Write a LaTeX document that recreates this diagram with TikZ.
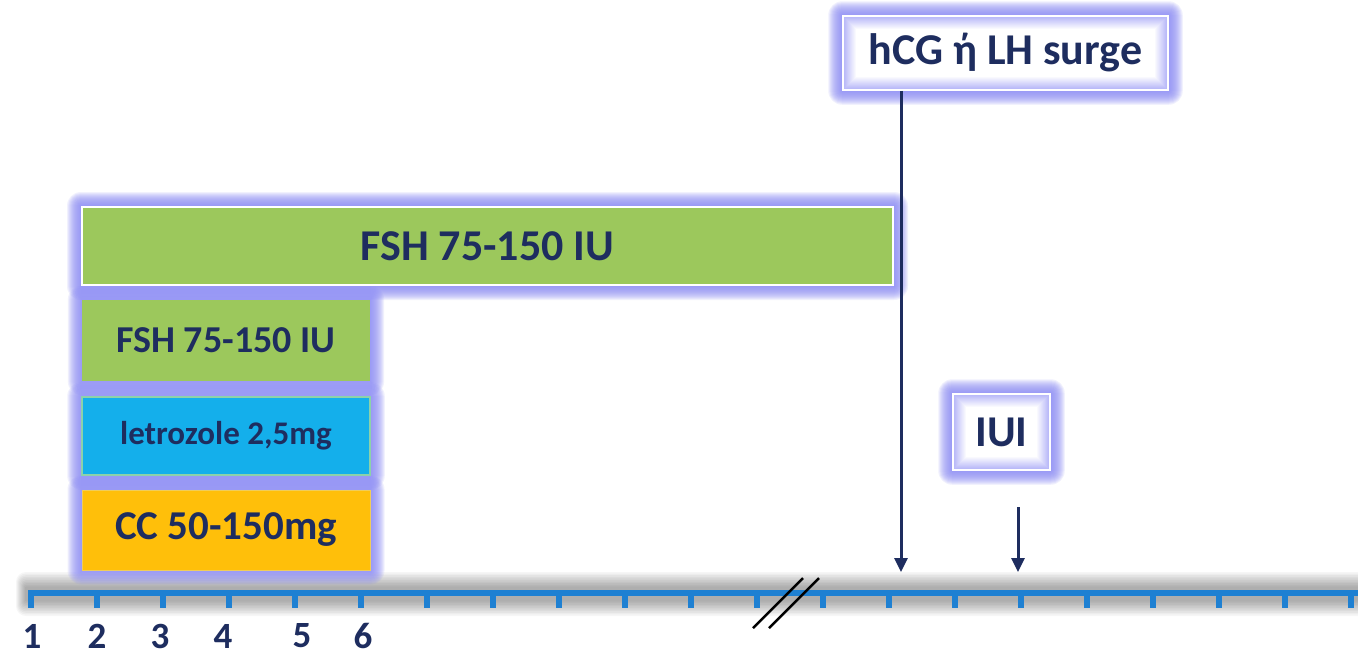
\documentclass[tikz,border=0pt]{standalone}
\usepackage{fontspec}
\setmainfont{Carlito}
\usetikzlibrary{arrows.meta}
\usetikzlibrary{backgrounds}

\definecolor{navy}{HTML}{1E2D5F}
\definecolor{halo}{HTML}{8C8CF5}
\definecolor{leaf}{HTML}{9CC85C}
\definecolor{sky}{HTML}{14AFEB}
\definecolor{amber}{HTML}{FFBF0A}
\definecolor{axisblue}{HTML}{1E80D2}

% soft lavender halo round a node
\newcommand{\halobox}[2][14]{%
  \foreach \g in {1,...,#1}
    \fill[halo,fill opacity=0.12,rounded corners=\g pt]
      ([xshift=-\g pt,yshift=-\g pt]#2.south west) rectangle
      ([xshift=\g pt,yshift=\g pt]#2.north east);
}
% lavender shade just inside the frame of a node
\newcommand{\innerglow}[1]{%
  \foreach \g in {2,...,13}{
    \pgfmathsetmacro{\a}{0.7*(1-\g/14)}
    \draw[halo,draw opacity=\a,line width=1.2pt]
      ([xshift=\g pt,yshift=\g pt]#1.south west) rectangle
      ([xshift=-\g pt,yshift=-\g pt]#1.north east);
  }
}

\begin{document}
\begin{tikzpicture}
[x=1pt,y=-1pt,%
  every node/.style={inner sep=0pt,text=navy,font=\bfseries},%
  dose/.style={minimum height=80pt,minimum width=288pt},%
  event/.style={fill=white,draw=white,line width=1.5pt},%
  daynum/.style={font=\bfseries\fontsize{37}{40}\selectfont},%
  axis/.style={axisblue,line width=6pt},%
  pointer/.style={navy,line width=3pt,-{Triangle[length=14pt,width=13pt]}}]
\useasboundingbox (0,0) rectangle (1358,657);
%%
\node[dose,fill=leaf,draw=white,line width=2pt,minimum width=811pt,minimum height=78pt,
  font=\bfseries\fontsize{44}{48}\selectfont] (fshlong) at (487.5,246) {FSH 75-150 IU};
\node[dose,fill=leaf,minimum height=81pt,
  font=\bfseries\fontsize{38}{42}\selectfont] (fsh) at (226,340.5) {FSH 75-150 IU};
\node[dose,fill=sky,draw={rgb,255:red,140;green,210;blue,170},line width=1.5pt,minimum height=78pt,
  font=\bfseries\fontsize{33}{36}\selectfont] (letrozole) at (226,436) {letrozole 2,5mg};
\node[dose,fill=amber,draw={rgb,255:red,240;green,205;blue,90},line width=1pt,
  font=\bfseries\fontsize{41}{44}\selectfont] (cc) at (226,530) {CC 50-150mg};
%%
\node[event,minimum width=325pt,minimum height=74pt,
  font=\bfseries\fontsize{44}{48}\selectfont] (hcg) at (1005.5,53) {hCG ή LH surge};
\node[event,minimum width=97pt,minimum height=76pt,
  font=\bfseries\fontsize{44}{48}\selectfont] (iui) at (1001.5,432) {IUI};
\innerglow{hcg}
\innerglow{iui}
%%
\begin{scope}[on background layer]
  \fill[white] (0,0) rectangle (1358,657);
  % shadow round the time line
  \foreach \g in {1,...,10}
    \fill[black,fill opacity=0.035,rounded corners=\g pt]
      (26-\g,588-1.6*\g) rectangle (1370,600+1.6*\g);
  \foreach \n in {fshlong,fsh,letrozole,cc,hcg,iui}
    \halobox{\n};
\end{scope}
%%
% time line with one tick per day
\draw[axis] (28,593) -- (1358,593);
\foreach \k in {0,...,20}
  \draw[axis] (31+66*\k,593) -- ++(0,15);
\foreach \x/\n in {32/1, 97/2, 160/3, 223/4, 302/5, 363/6}
  \node[daynum] (d\n) at (\x,636) {\n};
\draw[black,line width=2.5pt] (753,628) -- (803,578)
                              (769,628) -- (819,578);
%%
\coordinate (trigger) at (901,572);
\coordinate (insemtop) at (1018,507);
\coordinate (insem) at (1018,572);
\draw[pointer] (hcg.south -| trigger) -- (trigger);
\draw[pointer] (insemtop) -- (insem);
\end{tikzpicture}
\end{document}
